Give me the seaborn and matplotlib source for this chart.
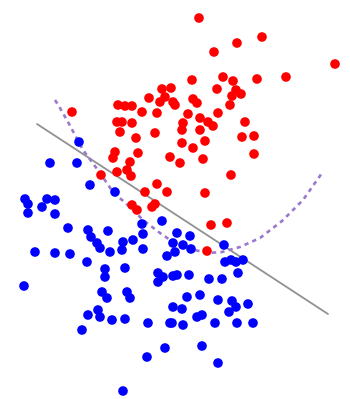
import matplotlib
matplotlib.use("Agg")
import matplotlib.pyplot as plt
import seaborn as sns
import pandas as pd

# Class A (red) samples: feature 1, feature 2 (feature 2 grows downward)
red_x = [199, 262, 237, 214, 335, 286, 257, 223, 233, 192, 217, 236, 241, 232, 230,
         193, 197, 175, 162, 171, 165, 149, 160, 173, 157, 142,
         118, 125, 132, 72, 117, 122, 132, 120, 136, 155,
         188, 218, 200, 208, 213, 183, 182, 200, 245,
         182, 193, 205, 242, 254, 254, 180, 203, 170,
         115, 113, 130, 138, 127, 131, 117, 101,
         157, 167, 145, 231, 205,
         132, 137, 152, 155,
         211, 227, 207]
red_y = [18, 37, 43, 52, 64, 77, 79, 77, 81, 80, 89, 90, 94, 96, 105,
         99, 103, 105, 89, 88, 97, 98, 102, 102, 113, 112,
         105, 106, 106, 112, 122, 122, 123, 132, 138, 133,
         114, 113, 118, 122, 126, 123, 130, 130, 122,
         143, 148, 141, 137, 136, 154, 163, 159, 157,
         152, 158, 162, 153, 170, 176, 172, 175,
         184, 192, 192, 175, 193,
         205, 210, 207, 204,
         225, 223, 251]

# Class B (blue) samples
blue_x = [79, 50, 77, 90, 115, 25, 28, 47, 55, 42, 28, 55,
          68, 88, 91, 97, 100, 108, 35, 55, 70, 87, 105, 105, 24,
          162, 142, 123, 133, 143, 143, 122, 110,
          177, 190, 183, 191, 173, 167, 175,
          158, 163, 173, 158, 125,
          102, 107, 127, 130, 187, 173, 182,
          98, 88, 100, 112, 125, 82, 148, 170, 172, 183,
          165, 147, 123,
          224, 225, 231, 236, 243,
          177, 189, 209, 222, 238,
          200, 218, 232, 236, 229, 248,
          197, 202, 215, 237, 253, 202, 218]
blue_y = [142, 163, 163, 185, 192, 199, 204, 199, 200, 207, 213, 214,
          228, 230, 237, 243, 248, 231, 252, 253, 254, 262, 269, 277, 286,
          221, 224, 242, 240, 234, 249, 250, 252,
          233, 236, 245, 249, 243, 256, 252,
          273, 277, 276, 282, 268,
          292, 298, 292, 298, 297, 307, 309,
          310, 315, 317, 320, 319, 330, 323, 323, 323, 325,
          348, 357, 391,
          245, 262, 260, 262, 260,
          275, 275, 279, 279, 273,
          295, 300, 301, 307, 312, 304,
          317, 315, 323, 323, 323, 346, 363]

# Linear decision boundary (end points)
lin_x = [37, 328]
lin_y = [124, 314]

# Quadratic decision boundary, traced
quad_x = [55, 60, 68, 75, 83, 92, 100, 113, 130, 143, 160, 173, 190, 208, 222,
          240, 260, 282, 303, 322]
quad_y = [100, 108, 122, 135, 150, 162, 173, 192, 207, 220, 233, 242, 249, 253, 252,
          247, 238, 221, 200, 173]

pts = pd.DataFrame({
    "x": red_x + blue_x,
    "y": red_y + blue_y,
    "cls": ["A"] * len(red_x) + ["B"] * len(blue_x),
})

sns.set_style("white")
fig = plt.figure(figsize=(3.5, 3.99), dpi=100)
ax = fig.add_axes([0, 0, 1, 1])

sns.lineplot(x=lin_x, y=lin_y, ax=ax, color="#919191", linewidth=1.3, sort=False)
sns.lineplot(x=quad_x, y=quad_y, ax=ax, color="#9a78cc", linewidth=1.9, sort=False,
             linestyle=(0, (1.6, 1.6)))
sns.scatterplot(data=pts, x="x", y="y", hue="cls",
                palette={"A": "#ff0000", "B": "#0000ff"},
                s=48, linewidth=0, legend=False, ax=ax, zorder=3)

ax.set_xlim(0, 350)
ax.set_ylim(399, 0)
ax.set_axis_off()
fig.savefig("out.png", dpi=100, facecolor="white")
